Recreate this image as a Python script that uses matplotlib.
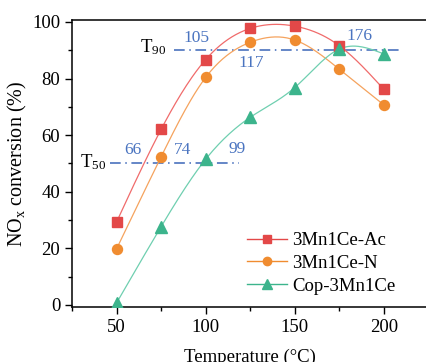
import numpy as np
import matplotlib
matplotlib.use('Agg')
import matplotlib.pyplot as plt
from matplotlib.ticker import MultipleLocator

plt.rcParams['font.family'] = ['Liberation Serif', 'DejaVu Serif']
plt.rcParams['mathtext.fontset'] = 'custom'
plt.rcParams['mathtext.rm'] = 'Liberation Serif'
plt.rcParams['mathtext.it'] = 'Liberation Serif'

temperature = [50, 75, 100, 125, 150, 175, 200]
ac = [29.4, 62.1, 86.7, 97.7, 98.5, 91.6, 76.2]
nn = [19.9, 52.4, 80.4, 92.8, 93.6, 83.3, 70.7]
cop = [0.8, 27.7, 51.5, 66.3, 76.8, 90.4, 88.7]

series_names = ['3Mn1Ce-Ac', '3Mn1Ce-N', 'Cop-3Mn1Ce']
t50_labels = [('66', 59, 54.8), ('74', 87, 54.8), ('99', 117.5, 55)]
t90_labels = [('105', 95, 94.3), ('117', 125.5, 85.5), ('176', 186.5, 95)]


def smooth(x, y, n=200):
    # natural cubic spline through the points, only for drawing the line
    x = np.asarray(x, float)
    y = np.asarray(y, float)
    k = len(x)
    h = np.diff(x)
    A = np.zeros((k, k))
    b = np.zeros(k)
    A[0, 0] = A[-1, -1] = 1
    for i in range(1, k - 1):
        A[i, i - 1] = h[i - 1]
        A[i, i] = 2 * (h[i - 1] + h[i])
        A[i, i + 1] = h[i]
        b[i] = 6 * ((y[i + 1] - y[i]) / h[i] - (y[i] - y[i - 1]) / h[i - 1])
    M = np.linalg.solve(A, b)
    xs = np.linspace(x[0], x[-1], n)
    ys = np.empty_like(xs)
    for j, t in enumerate(xs):
        i = min(np.searchsorted(x, t, side='right') - 1, k - 2)
        a, c = x[i], x[i + 1]
        hi = c - a
        ys[j] = (M[i] * (c - t) ** 3 / (6 * hi) + M[i + 1] * (t - a) ** 3 / (6 * hi)
                 + (y[i] / hi - M[i] * hi / 6) * (c - t)
                 + (y[i + 1] / hi - M[i + 1] * hi / 6) * (t - a))
    return xs, ys


fig = plt.figure(figsize=(4.27, 3.62), dpi=100)
ax = fig.add_axes([0.169, 0.152, 0.834, 0.793])

line_colors = ['#F06B6B', '#F5A35E', '#6FCFB0']
mark_colors = ['#E34848', '#F08C30', '#3CB48C']
markers = ['s', 'o', '^']
msizes = [6.5, 7.2, 8.2]
for vals, name, lc, mc, mk, ms in zip([ac, nn, cop], series_names, line_colors,
                                      mark_colors, markers, msizes):
    xs, ys = smooth(temperature, vals)
    ax.plot(xs, ys, '-', color=lc, linewidth=0.9, zorder=2)
    ax.plot(temperature, vals, mk, color=mc, markersize=ms, linestyle='none', zorder=3)
    ax.plot([], [], '-', color=mc, linewidth=1.0, marker=mk, markersize=ms - 1.2, label=name)

blue = '#3A66B8'
ax.plot([82, 210.5], [90, 90], color=blue, linestyle=(0, (7, 3, 1, 3)), linewidth=1.1, zorder=1)
ax.plot([46, 118.5], [50, 50], color=blue, linestyle=(0, (7, 3, 1, 3)), linewidth=1.1, zorder=1)
ax.text(70.5, 91, r'T$_{90}$', fontsize=13.5, ha='center', va='center')
ax.text(36.5, 50.5, r'T$_{50}$', fontsize=13.5, ha='center', va='center')
for txt, xx, yy in t50_labels + t90_labels:
    ax.text(xx, yy, txt, color='#4A74C0', fontsize=12.5, ha='center', va='center')

ax.set_xlim(25, 225)
ax.set_ylim(-0.7, 100.7)
ax.xaxis.set_major_locator(MultipleLocator(50))
ax.xaxis.set_minor_locator(MultipleLocator(25))
ax.yaxis.set_major_locator(MultipleLocator(20))
ax.yaxis.set_minor_locator(MultipleLocator(10))
ax.set_xticks([50, 100, 150, 200])
ax.tick_params(which='major', direction='out', length=5, width=1, labelsize=13.5)
ax.tick_params(which='minor', direction='out', length=3, width=1)
ax.spines['right'].set_visible(False)
for s in ['left', 'bottom', 'top']:
    ax.spines[s].set_linewidth(1.1)
ax.set_xlabel('Temperature (°C)', fontsize=13.5, labelpad=9)
ax.set_ylabel('NO$_{x}$ conversion (%)', fontsize=14.5, labelpad=2)

ax.legend(loc='center left', bbox_to_anchor=(0.492, 0.152), frameon=False, fontsize=13.5,
          handlelength=2.1, handletextpad=0.3, labelspacing=0.3, borderaxespad=0,
          borderpad=0)

fig.savefig('out.png', dpi=100)
